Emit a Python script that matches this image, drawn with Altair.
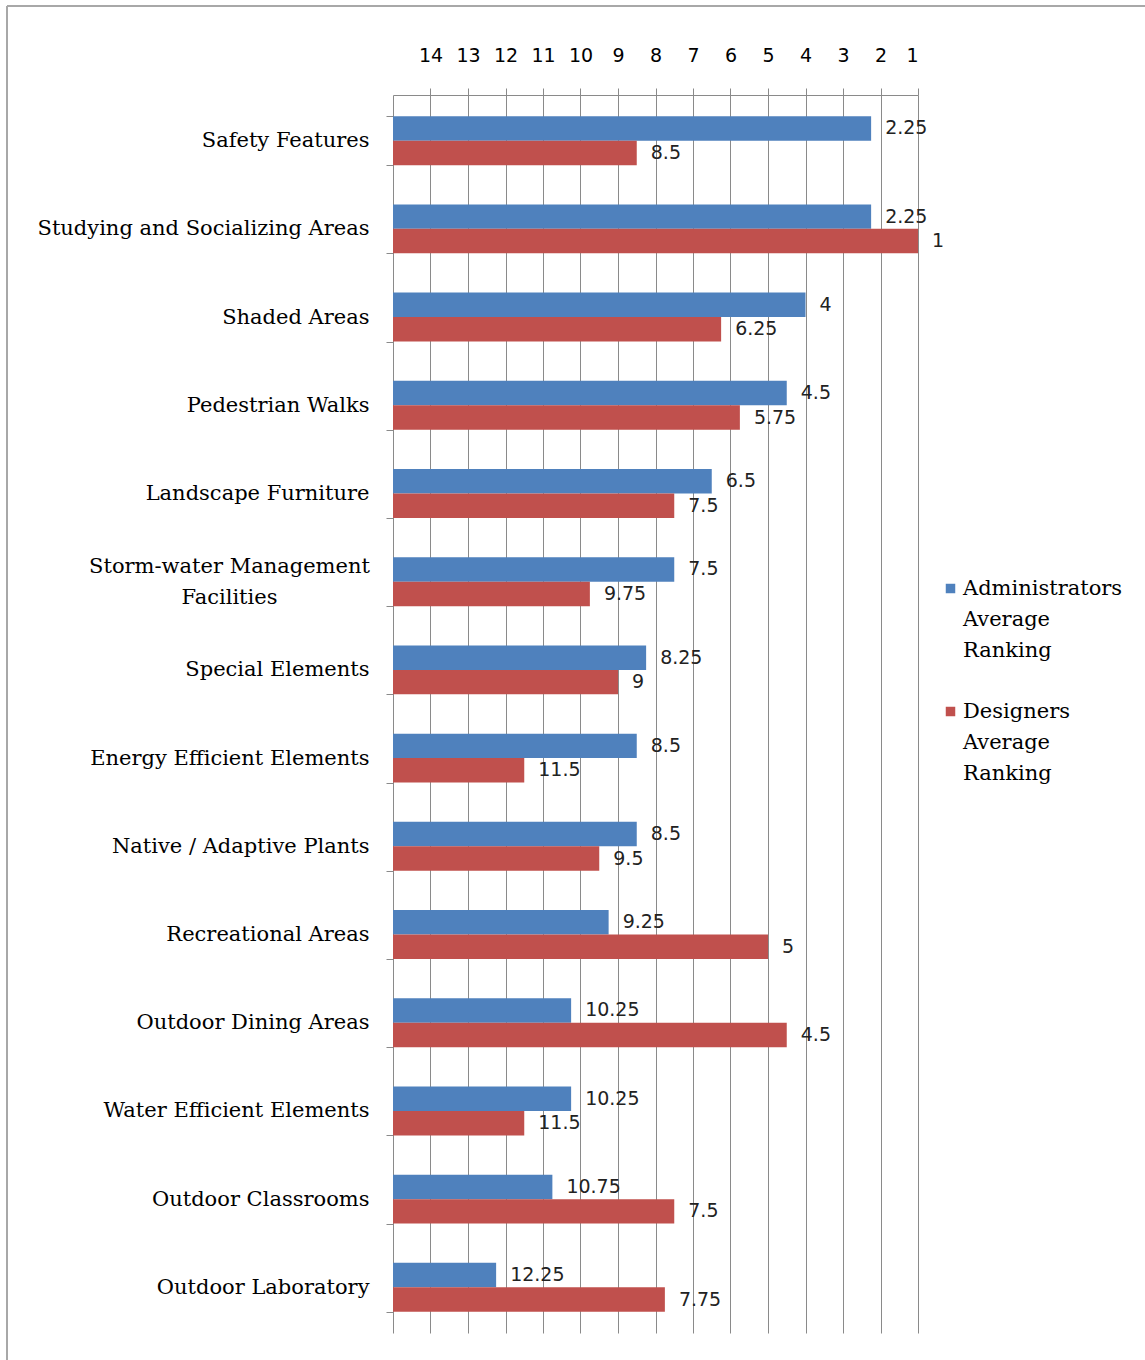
import altair as alt
import pandas as pd

# Survey features, listed top to bottom
features = [
    "Safety Features",
    "Studying and Socializing Areas",
    "Shaded Areas",
    "Pedestrian Walks",
    "Landscape Furniture",
    "Storm-water Management Facilities",
    "Special Elements",
    "Energy Efficient Elements",
    "Native / Adaptive Plants",
    "Recreational Areas",
    "Outdoor Dining Areas",
    "Water Efficient Elements",
    "Outdoor Classrooms",
    "Outdoor Laboratory",
]
admin_rank = [2.25, 2.25, 4, 4.5, 6.5, 7.5, 8.25, 8.5, 8.5, 9.25, 10.25, 10.25, 10.75, 12.25]
designer_rank = [8.5, 1, 6.25, 5.75, 7.5, 9.75, 9, 11.5, 9.5, 5, 4.5, 11.5, 7.5, 7.75]
series_names = ["Administrators Average Ranking", "Designers Average Ranking"]
series_colors = ["#4F81BD", "#C0504D"]
rank_ticks = list(range(1, 15))

rows = []
for f, a, d in zip(features, admin_rank, designer_rank):
    rows.append({"feature": f, "series": series_names[0], "rank": a, "label": f"{a:g}"})
    rows.append({"feature": f, "series": series_names[1], "rank": d, "label": f"{d:g}"})
df = pd.DataFrame(rows)

SERIF = "DejaVu Serif"
SANS = "DejaVu Sans"
WRAPPED = "Storm-water Management Facilities"
is_wrapped = f"datum.value == '{WRAPPED}'"

x_scale = alt.Scale(domain=[1, 15], reverse=True, nice=False, zero=False)
y_enc = alt.Y(
    "feature:N",
    sort=features,
    scale=alt.Scale(paddingInner=0.445, paddingOuter=0.24),
    axis=alt.Axis(
        title=None,
        labelFont=SERIF,
        labelFontSize=21,
        labelColor="#000000",
        labelExpr=f"datum.label == '{WRAPPED}' ? ['Storm-water Management', 'Facilities'] : datum.label",
        labelAlign={"condition": {"test": is_wrapped, "value": "center"}, "value": "right"},
        labelPadding={"condition": {"test": is_wrapped, "value": 157}, "value": 17},
        labelOffset={"condition": {"test": is_wrapped, "value": -15}, "value": 0},
        labelBaseline="middle",
        labelLimit=500,
        tickBand="extent",
        tickSize=7,
        tickColor="#8a8a8a",
        domainColor="#8a8a8a",
        grid=False,
    ),
)
yoff = alt.YOffset("series:N", sort=series_names, scale=alt.Scale(paddingInner=0, paddingOuter=0))

bars = alt.Chart(df).mark_bar().encode(
    x=alt.X(
        "rank:Q",
        scale=x_scale,
        axis=alt.Axis(
            orient="top",
            title=None,
            values=rank_ticks,
            format="d",
            labelFont=SANS,
            labelFontSize=19,
            labelColor="#000000",
            labelPadding=23,
            tickSize=7,
            tickColor="#8a8a8a",
            domainColor="#8a8a8a",
            grid=True,
            gridColor="#8a8a8a",
            gridOpacity=1,
        ),
    ),
    x2=alt.datum(15),
    y=y_enc,
    yOffset=yoff,
    color=alt.Color(
        "series:N",
        sort=series_names,
        scale=alt.Scale(domain=series_names, range=series_colors),
        legend=alt.Legend(
            title=None,
            orient="none",
            legendX=547,
            legendY=483,
            symbolType="square",
            symbolSize=90,
            symbolStrokeWidth=0,
            labelFont=SERIF,
            labelFontSize=21,
            labelColor="#000000",
            labelExpr="split(datum.label, ' ')",
            labelBaseline="middle",
            labelOffset=2,
            rowPadding=39,
            labelLimit=300,
        ),
    ),
)

values = alt.Chart(df).mark_text(
    align="left", baseline="middle", dx=14, font=SANS, fontSize=19, color="#222222"
).encode(
    x=alt.X("rank:Q", scale=x_scale),
    y=alt.Y("feature:N", sort=features),
    yOffset=alt.YOffset("series:N", sort=series_names),
    text="label:N",
)

# outer frame (top and left edges)
frame_left = alt.Chart(df).mark_rule(color="#a8a8a8", strokeWidth=2).encode(
    x=alt.value(-386), y=alt.value(-89), y2=alt.value(1265)
)
frame_top = alt.Chart(df).mark_rule(color="#a8a8a8", strokeWidth=2).encode(
    x=alt.value(-386), x2=alt.value(752), y=alt.value(-89)
)

chart = alt.layer(bars, values, frame_left, frame_top).properties(
    width=525,
    height=1238,
    autosize=alt.AutoSizeParams(type="none"),
    padding={"left": 393, "top": 95, "right": 227, "bottom": 27},
).configure(
    style={"guide-label": {"lineHeight": 31}}
).configure_view(stroke=None)

chart.save("out.html", embed_options={"renderer": "svg", "actions": False})
